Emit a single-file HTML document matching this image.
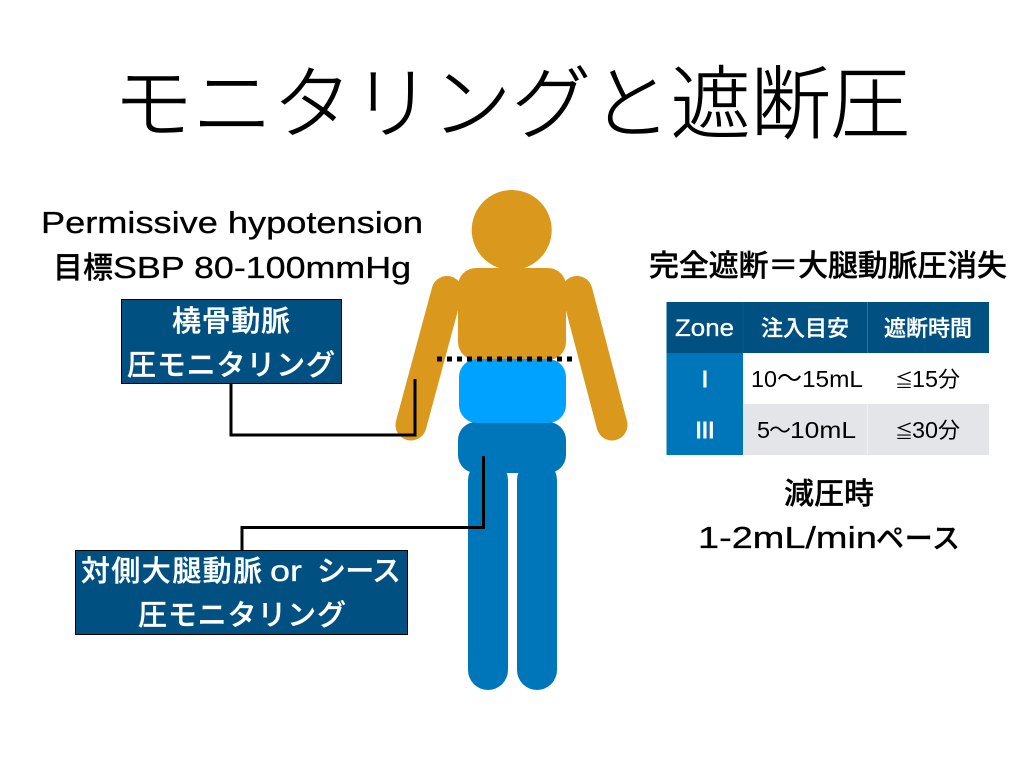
<!DOCTYPE html>
<html lang="ja">
<head>
<meta charset="utf-8">
<style>
html,body{margin:0;padding:0;background:#fff;width:1024px;height:768px;overflow:hidden}
svg{display:block}
text{font-family:"Liberation Sans","Noto Sans CJK JP",sans-serif;font-weight:500}
.j{font-family:"Noto Sans CJK JP",sans-serif;stroke:#000;stroke-width:.3px}
.r{font-family:"Noto Sans CJK JP",sans-serif;font-weight:400}
.l{font-family:"Liberation Sans",sans-serif;font-weight:400;stroke:#000;stroke-width:.3px}
.t{font-family:"Liberation Sans",sans-serif;font-weight:400}
.w{fill:#fff;stroke:#fff}
.lw{font-family:"Liberation Sans",sans-serif;font-weight:400;fill:#fff;stroke:#fff;stroke-width:.3px}
</style>
</head>
<body>
<svg width="1024" height="768" viewBox="0 0 1024 768" xmlns="http://www.w3.org/2000/svg">
<rect width="1024" height="768" fill="#fff"/>
<text class="j" x="113" y="132" font-size="80" textLength="797" lengthAdjust="spacing" style="font-weight:300;stroke-width:.6px">モニタリングと遮断圧</text>

<!-- figure -->
<line x1="447" y1="291.500" x2="411" y2="425" stroke="#DA981C" stroke-width="31" stroke-linecap="round"/>
<line x1="577" y1="291.500" x2="612" y2="425" stroke="#DA981C" stroke-width="31" stroke-linecap="round"/>
<circle cx="511.7" cy="230" r="40" fill="#DA981C"/>
<rect x="468" y="460" width="40" height="230" rx="20" fill="#0076BA"/>
<rect x="517" y="460" width="40" height="230" rx="20" fill="#0076BA"/>
<rect x="458" y="422" width="108" height="51" rx="18" fill="#0076BA"/>
<rect x="458" y="268" width="108" height="92" rx="18" fill="#DA981C"/>
<rect x="459" y="359" width="107" height="64" rx="18" fill="#00A2FF"/>
<line x1="437" y1="359" x2="573" y2="359" stroke="#000" stroke-width="5" stroke-dasharray="5 5"/>

<!-- connectors -->
<polyline points="231,384 231,435 415,435 415,379" fill="none" stroke="#000" stroke-width="3"/>
<polyline points="242,550 242,527.500 483.500,527.500 483.500,456" fill="none" stroke="#000" stroke-width="3"/>

<!-- left labels -->
<text class="l" x="41" y="233" font-size="31" textLength="382" lengthAdjust="spacingAndGlyphs">Permissive hypotension</text>
<text class="j" x="53" y="278" font-size="30" textLength="60" lengthAdjust="spacing">目標</text>
<text class="l" x="113" y="278" font-size="31" textLength="298" lengthAdjust="spacingAndGlyphs">SBP 80-100mmHg</text>

<rect x="121.500" y="299.500" width="220" height="84" fill="#005082" stroke="#000"/>
<text class="j w" x="172" y="331" font-size="29" textLength="118" lengthAdjust="spacing">橈骨動脈</text>
<text class="j w" x="127" y="375" font-size="29" textLength="208" lengthAdjust="spacing">圧モニタリング</text>

<rect x="75.500" y="550.500" width="332" height="84" fill="#005082" stroke="#000"/>
<text class="j w" x="81" y="581" font-size="29" textLength="181" lengthAdjust="spacing">対側大腿動脈</text>
<text class="lw" x="270" y="581" font-size="30" textLength="32" lengthAdjust="spacingAndGlyphs">or</text>
<text class="j w" x="317" y="581" font-size="29" textLength="84" lengthAdjust="spacing">シース</text>
<text class="j w" x="138" y="625" font-size="29" textLength="208" lengthAdjust="spacing">圧モニタリング</text>

<!-- right -->
<text class="j" x="649" y="276" font-size="30" textLength="358" lengthAdjust="spacing">完全遮断＝大腿動脈圧消失</text>

<rect x="666.500" y="302" width="322.500" height="51" fill="#005082"/>
<rect x="666.500" y="353" width="76.500" height="102" fill="#0076BA"/>
<rect x="743" y="404" width="246" height="51" fill="#E4E5E9"/>
<line x1="743" y1="302" x2="743" y2="353" stroke="#1A6193" stroke-width="0.500"/>
<line x1="867.500" y1="302" x2="867.500" y2="353" stroke="#2C6F9F" stroke-width="1"/>
<line x1="867.500" y1="404" x2="867.500" y2="455" stroke="#EFF0F2" stroke-width="1"/>

<text class="lw" x="675" y="336" font-size="24" textLength="59" lengthAdjust="spacingAndGlyphs">Zone</text>
<text class="j w" x="761" y="336" font-size="22" textLength="88" lengthAdjust="spacing">注入目安</text>
<text class="j w" x="884" y="336" font-size="22" textLength="88" lengthAdjust="spacing">遮断時間</text>

<text class="lw" x="705" y="387" font-size="23" text-anchor="middle" style="stroke-width:1px">I</text>
<text class="lw" x="705" y="438" font-size="23" text-anchor="middle" style="stroke-width:1px">III</text>

<text class="t" x="751" y="387" font-size="23" textLength="26" lengthAdjust="spacingAndGlyphs">10</text>
<text class="r" x="777" y="387" font-size="25">〜</text>
<text class="t" x="802" y="387" font-size="23" textLength="61" lengthAdjust="spacingAndGlyphs">15mL</text>
<text class="r" x="895" y="387" font-size="18">≦</text>
<text class="t" x="912" y="387" font-size="23" textLength="26" lengthAdjust="spacingAndGlyphs">15</text>
<text class="r" x="938" y="387" font-size="22">分</text>

<text class="t" x="757" y="438" font-size="23" textLength="13" lengthAdjust="spacingAndGlyphs">5</text>
<text class="r" x="769" y="438" font-size="22">〜</text>
<text class="t" x="790" y="438" font-size="23" textLength="66" lengthAdjust="spacingAndGlyphs">10mL</text>
<text class="r" x="895" y="438" font-size="18">≦</text>
<text class="t" x="912" y="438" font-size="23" textLength="26" lengthAdjust="spacingAndGlyphs">30</text>
<text class="r" x="938" y="438" font-size="22">分</text>

<text class="j" x="784" y="504" font-size="30" textLength="90" lengthAdjust="spacing">減圧時</text>
<text class="l" x="698" y="548" font-size="31" textLength="179" lengthAdjust="spacingAndGlyphs">1-2mL/min</text>
<text class="j" x="876" y="548" font-size="28" textLength="84" lengthAdjust="spacing">ペース</text>
</svg>
</body>
</html>
